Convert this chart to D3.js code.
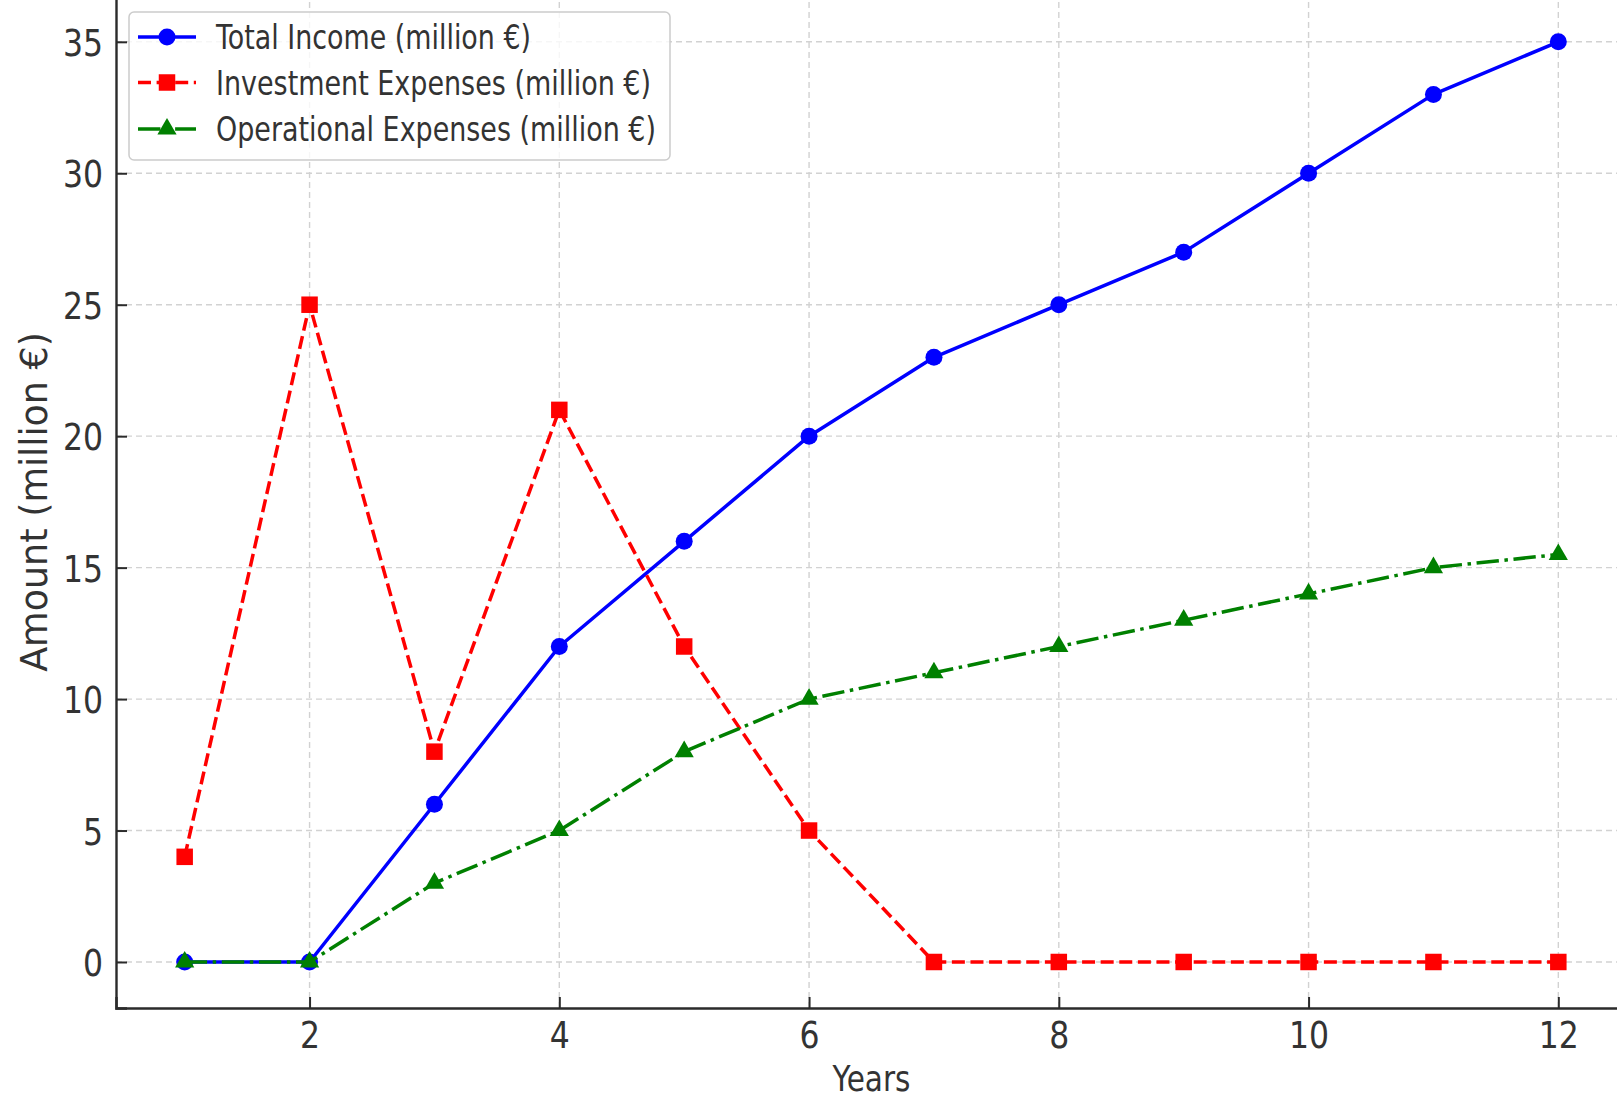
<!DOCTYPE html>
<html>
<head>
<meta charset="utf-8">
<script src="https://cdn.jsdelivr.net/npm/d3@7"></script>
<style>
  html, body { margin: 0; padding: 0; background: #fff; }
  svg { display: block; }
  text { font-family: "DejaVu Sans", sans-serif; fill: #333; }
</style>
</head>
<body>
<svg id="chart" width="1617" height="1100"></svg>
<script>
// ---- data ----
const years = [1, 2, 3, 4, 5, 6, 7, 8, 9, 10, 11, 12];
const totalIncome = [0, 0, 6, 12, 16, 20, 23, 25, 27, 30, 33, 35];
const investmentExpenses = [4, 25, 8, 21, 12, 5, 0, 0, 0, 0, 0, 0];
const operationalExpenses = [0, 0, 3, 5, 8, 10, 11, 12, 13, 14, 15, 15.5];
const seriesNames = ["Total Income (million €)", "Investment Expenses (million €)", "Operational Expenses (million €)"];
const xTicks = [2, 4, 6, 8, 10, 12];
const yTicks = [0, 5, 10, 15, 20, 25, 30, 35];
const xLabel = "Years";
const yLabel = "Amount (million €)";

(function () {
// ---- layout ----
const svg = d3.select("#chart");
const pLeft = 116, pRight = 1627, pTop = -4.2, pBottom = 1008;
const x = d3.scaleLinear().domain([0.45, 12.55]).range([pLeft, pRight]);
const y = d3.scaleLinear().domain([-1.75, 36.75]).range([pBottom, pTop]);
const squeeze = 0.84; // horizontal compression of glyphs in the reference

function squeezeText(sel, k) {
  sel.each(function () {
    const w = this.getComputedTextLength();
    d3.select(this).attr("textLength", w * k).attr("lengthAdjust", "spacingAndGlyphs");
  });
}

// grid
const grid = svg.append("g");
grid.selectAll("line.gx").data(xTicks).join("line")
  .attr("x1", d => x(d)).attr("x2", d => x(d)).attr("y1", pBottom).attr("y2", pTop)
  .attr("stroke", "#d2d2d2").attr("stroke-width", 1.4).attr("stroke-dasharray", "6,4");
grid.selectAll("line.gy").data(yTicks).join("line")
  .attr("y1", d => y(d)).attr("y2", d => y(d)).attr("x1", pLeft).attr("x2", pRight)
  .attr("stroke", "#d2d2d2").attr("stroke-width", 1.4).attr("stroke-dasharray", "6,4");

// axes via d3
const xAxis = d3.axisBottom(x).tickValues(xTicks).tickSize(-11).tickPadding(13).tickFormat(d3.format("d"));
const yAxis = d3.axisLeft(y).tickValues(yTicks).tickSize(-11).tickPadding(13).tickFormat(d3.format("d"));

const gx = svg.append("g").attr("transform", `translate(0,${pBottom})`).call(xAxis);
const gy = svg.append("g").attr("transform", `translate(${pLeft},0)`).call(yAxis);
[gx, gy].forEach(g => {
  g.select(".domain").attr("stroke", "#2b2b2b").attr("stroke-width", 2.4);
  g.selectAll(".tick line").attr("stroke", "#2b2b2b").attr("stroke-width", 2);
  g.selectAll(".tick text").attr("font-size", 37.5).attr("fill", "#333")
    .style("font-family", '"DejaVu Sans", sans-serif');
});
gx.selectAll(".tick text").attr("dy", "0.71em").call(squeezeText, squeeze);
gy.selectAll(".tick text").attr("dy", "0.36em").call(squeezeText, squeeze);

// axis labels
svg.append("text").attr("x", (pLeft + pRight) / 2).attr("y", 1091)
  .attr("text-anchor", "middle").attr("font-size", 36).text(xLabel)
  .call(squeezeText, 0.82);
svg.append("text").attr("transform", `translate(47,${(pBottom + pTop) / 2}) rotate(-90)`)
  .attr("text-anchor", "middle").attr("font-size", 36.5).text(yLabel);

// series
const series = [
  { name: seriesNames[0], values: totalIncome, color: "#0000ff", dash: null, marker: "circle" },
  { name: seriesNames[1], values: investmentExpenses, color: "#ff0000", dash: "13,5.6", marker: "square" },
  { name: seriesNames[2], values: operationalExpenses, color: "#008000", dash: "22.4,5.6,3.5,5.6", marker: "triangle" }
];
const markerSym = {
  circle: d3.symbol().type(d3.symbolCircle).size(Math.PI * 8.5 * 8.5),
  square: d3.symbol().type(d3.symbolSquare).size(16.5 * 16.5),
  triangle: d3.symbol().type(d3.symbolTriangle).size(160)
};
const line = d3.line().x((d, i) => x(years[i])).y(d => y(d));

series.forEach(s => {
  const g = svg.append("g");
  g.append("path").datum(s.values).attr("d", line)
    .attr("fill", "none").attr("stroke", s.color).attr("stroke-width", 3.5)
    .attr("stroke-dasharray", s.dash).attr("stroke-linejoin", "round");
  g.selectAll("path.m").data(s.values).join("path")
    .attr("transform", (d, i) => `translate(${x(years[i])},${y(d)})`)
    .attr("d", markerSym[s.marker]()).attr("fill", s.color);
});

// legend
const lg = svg.append("g");
lg.append("rect").attr("x", 129).attr("y", 12).attr("width", 541).attr("height", 148)
  .attr("rx", 5).attr("fill", "#fff").attr("fill-opacity", 0.8)
  .attr("stroke", "#cccccc").attr("stroke-width", 1.5);
const rowY = [37, 82.5, 129];
const legendWidths = [315, 435, 440];
series.forEach((s, i) => {
  const ry = rowY[i];
  lg.append("line").attr("x1", 138).attr("x2", 196).attr("y1", ry).attr("y2", ry)
    .attr("stroke", s.color).attr("stroke-width", 3.5).attr("stroke-dasharray", s.dash);
  lg.append("path").attr("transform", `translate(167,${ry})`)
    .attr("d", markerSym[s.marker]()).attr("fill", s.color);
  lg.append("text").attr("x", 216).attr("y", ry + 12).attr("font-size", 33)
    .attr("textLength", legendWidths[i]).attr("lengthAdjust", "spacingAndGlyphs")
    .text(s.name);
});
})();
</script>
</body>
</html>
